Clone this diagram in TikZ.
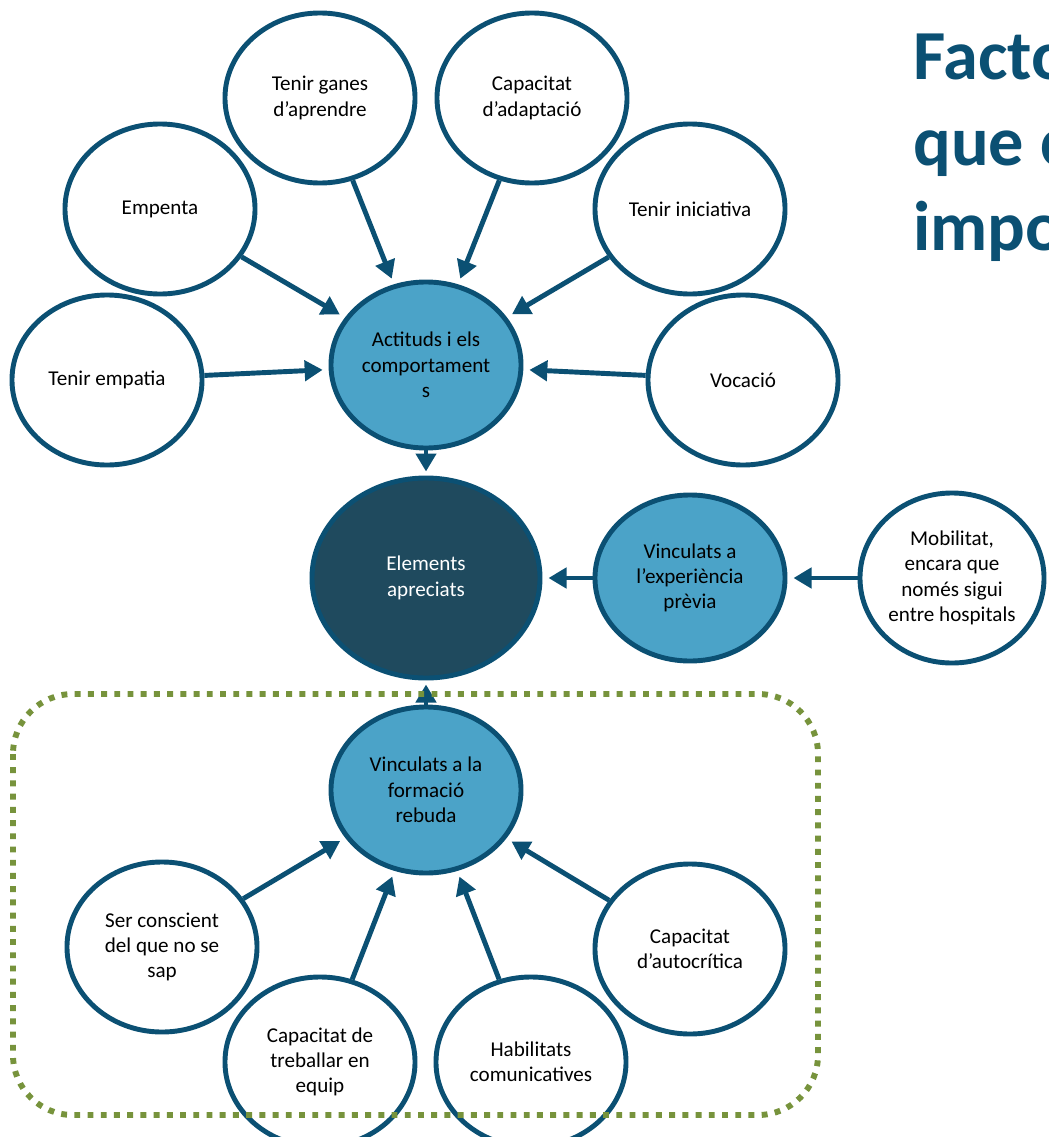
\documentclass[tikz,border=0pt]{standalone}
\usepackage{fontspec}
\setmainfont{Carlito}
\usetikzlibrary{shapes.geometric,arrows.meta}
\definecolor{rim}{RGB}{11,80,115}
\definecolor{lightfill}{RGB}{75,163,200}
\definecolor{darkfill}{RGB}{31,74,94}
\definecolor{olive}{RGB}{119,147,60}
\tikzset{
  bubble/.style={ellipse, draw=rim, line width=3.5pt, fill=white, inner sep=0pt, align=center,
    minimum width=4.75cm, minimum height=4.25cm, font=\fontsize{15pt}{18pt}\selectfont},
  hub/.style={bubble, fill=lightfill, minimum height=4.15cm},
  core/.style={bubble, fill=darkfill, text=white, minimum width=5.7cm, minimum height=5cm},
  link/.style={draw=rim, line width=3.5pt, -{Triangle[length=0.45cm,width=0.5cm]}, shorten >=0.15cm},
  headline/.style={anchor=base west, text=rim, font=\fontsize{50pt}{56pt}\selectfont\bfseries, inner sep=0pt}
}
\begin{document}
\begin{tikzpicture}[x=0.025cm,y=-0.025cm]
	\useasboundingbox (0,0) rectangle (1049,1137);
	\node[hub] (actituds) at (426,365) {Actituds i els\\comportament\\s};
	\node[core] (elements) at (426,578) {Elements\\apreciats};
	\node[hub] (previa) at (690,578) {Vinculats a\\l’experiència\\prèvia};
	\node[hub] (formacio) at (426,790) {Vinculats a la\\formació\\rebuda};
	\node[bubble] (ganes) at (320,98) {Tenir ganes\\d’aprendre};
	\node[bubble] (adaptacio) at (532,98) {Capacitat\\d’adaptació};
	\node[bubble] (empenta) at (160,209) {Empenta};
	\node[bubble] (iniciativa) at (690,209) {Tenir iniciativa};
	\node[bubble] (empatia) at (107,380) {Tenir empatia};
	\node[bubble] (vocacio) at (743,380) {Vocació};
	\node[bubble, minimum width=4.6cm] (mobilitat) at (952,578) {Mobilitat,\\encara que\\només sigui\\entre hospitals};
	\node[bubble] (conscient) at (162,947) {Ser conscient\\del que no se\\sap};
	\node[bubble] (autocritica) at (690,949) {Capacitat\\d’autocrítica};
	\node[bubble] (equip) at (320,1062) {Capacitat de\\treballar en\\equip};
	\node[bubble] (habilitats) at (531,1062) {Habilitats\\comunicatives};
	\draw[link] (ganes) -- (actituds);
	\draw[link] (adaptacio) -- (actituds);
	\draw[link] (empenta) -- (actituds);
	\draw[link] (iniciativa) -- (actituds);
	\draw[link] (empatia) -- (actituds);
	\draw[link] (vocacio) -- (actituds);
	\draw[link, shorten >=0.1cm] (actituds) -- (elements);
	\draw[link] (previa) -- (elements);
	\draw[link] (mobilitat) -- (previa);
	\draw[link, shorten >=0.1cm] (formacio) -- (elements);
	\draw[link] (conscient) -- (formacio);
	\draw[link] (equip) -- (formacio);
	\draw[link] (habilitats) -- (formacio);
	\draw[link] (autocritica) -- (formacio);
	\draw[olive, line width=4.2pt, dash pattern=on 4.2pt off 5.2pt, rounded corners=1.5cm] (13,694) rectangle (818,1115);
	\node[headline] (title1) at (913,80) {Facto};
	\node[headline] (title2) at (913,165) {que c};
	\node[headline] (title3) at (913,250) {impo};
\end{tikzpicture}
\end{document}
